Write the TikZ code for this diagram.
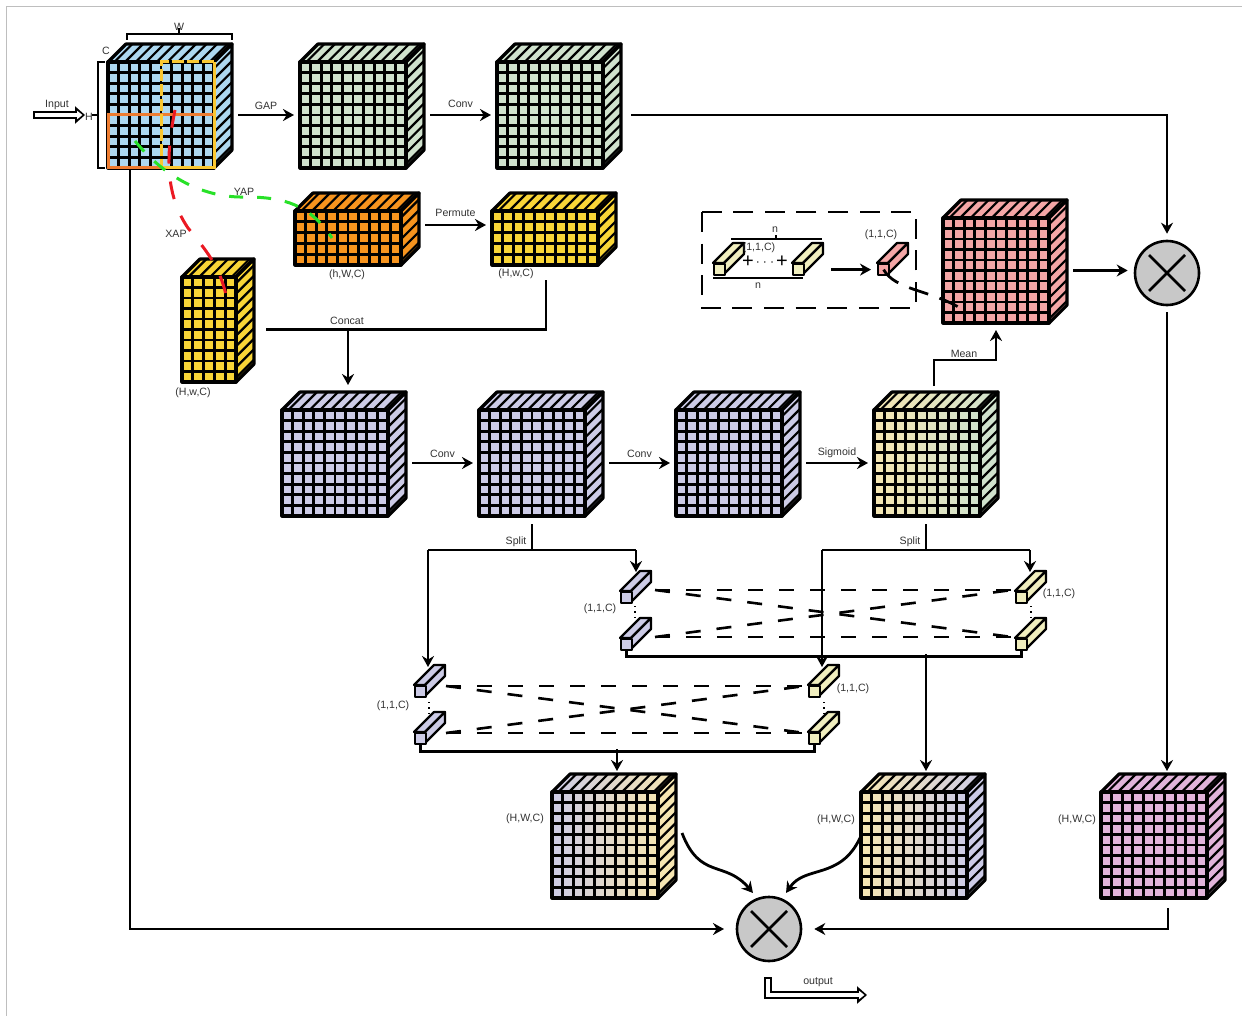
\documentclass[tikz,border=0pt]{standalone}
\usepackage{xcolor}
\usepackage{fontspec}
\setmainfont{Liberation Sans}
\usepackage{tikz}
\usetikzlibrary{arrows.meta, positioning, calc}
\definecolor{cubeblue}{RGB}{173,216,240}
\definecolor{cubegreen}{RGB}{208,226,205}
\definecolor{cubeorange}{RGB}{247,148,30}
\definecolor{cubeyellow}{RGB}{249,213,55}
\definecolor{cubepurple}{RGB}{204,203,230}
\definecolor{cubecream}{RGB}{246,230,178}
\definecolor{cubepink}{RGB}{244,166,166}
\definecolor{cubemauve}{RGB}{225,180,218}
\definecolor{barcream}{RGB}{240,238,190}
\definecolor{mulgray}{RGB}{200,200,200}
\definecolor{labgray}{RGB}{50,50,50}
\definecolor{framegray}{RGB}{190,190,190}
\definecolor{xapred}{RGB}{235,25,35}
\definecolor{yapgreen}{RGB}{40,225,40}
\definecolor{hedgeorange}{RGB}{238,125,49}
\definecolor{hedgeyellow}{RGB}{250,200,50}
\tikzset{
  cubeface/.style={draw=black, line width=1.6pt, line join=round},
  barface/.style={draw=black, line width=1.1pt, line join=round},
  cubegrid/.style={black, line width=1.4pt},
  cubehatch/.style={black, line width=1.1pt},
  facebox/.style={inner sep=0pt, outer sep=0pt},
  faceblue/.style={fill=cubeblue},
  facegreen/.style={fill=cubegreen},
  faceorange/.style={fill=cubeorange},
  faceyellow/.style={fill=cubeyellow},
  facepurple/.style={fill=cubepurple},
  facepink/.style={fill=cubepink},
  facemauve/.style={fill=cubemauve},
  facecream/.style={fill=cubecream},
  facecg/.style={left color=cubecream, right color=cubegreen},
  facepc/.style={left color=cubepurple, right color=cubecream},
  facecp/.style={left color=cubecream, right color=cubepurple},
  lab/.style={font=\fontsize{5.3}{6}\selectfont, text=labgray, inner sep=0pt, yshift=-0.6pt},
  arrow/.style={-{Stealth[length=5.5pt, width=6pt]}, line width=1.4pt, color=black,
    shorten >=3pt, shorten <=3pt},
  wire/.style={line width=1.4pt, color=black},
  pairdash/.style={line width=1.3pt, dash pattern=on 7.5pt off 8pt},
  bigdash/.style={line width=1.3pt, dash pattern=on 10pt off 5.8pt},
  hollowout/.style={line width=3.8pt, color=black, -{Triangle[length=5pt, width=8.5pt]}},
  hollowin/.style={line width=1.6pt, color=white, -{Triangle[length=2.6pt, width=4pt]},
    shorten >=1.3pt, shorten <=1.1pt},
  mulnode/.style={circle, draw=black, fill=mulgray, line width=1.3pt,
    minimum size=32pt, inner sep=0pt},
  mulcross/.style={line width=1.3pt, black}
}
% #1 name, #2 x, #3 y, #4 w, #5 h, #6 cols, #7 rows, #8 front, #9 side, then top
\newcommand{\tensorcube}[9]{%
  \def\cubename{#1}\def\cubex{#2}\def\cubey{#3}\def\cubew{#4}\def\cubeh{#5}%
  \def\cubecols{#6}\def\cuberows{#7}\def\cubefront{#8}\def\cubeside{#9}%
  \tensorcubefinish}
\newcommand{\tensorcubefinish}[1]{%
  \path[cubeface, #1] (\cubex,\cubey) -- ++(18,-18) -- ++(\cubew,0) -- ++(-18,18) -- cycle;
  \path[cubeface, \cubeside] (\cubex+\cubew,\cubey) -- ++(18,-18) -- ++(0,\cubeh) -- ++(-18,18) -- cycle;
  \pgfmathtruncatemacro{\lastcol}{\cubecols-1}
  \pgfmathtruncatemacro{\lastrow}{\cuberows-1}
  \foreach \i in {1,...,\cubecols} {
    \draw[cubehatch] ({\cubex+(\i-0.4)*\cubew/\cubecols},\cubey) -- ++(18,-18);
  }
  \foreach \i in {1,...,\cuberows} {
    \draw[cubehatch] (\cubex+\cubew,{\cubey+(\i-0.4)*\cubeh/\cuberows}) -- ++(18,-18);
  }
  \path[cubeface, \cubefront] (\cubex,\cubey) rectangle ++(\cubew,\cubeh);
  \foreach \i in {1,...,\lastcol} {
    \draw[cubegrid] ({\cubex+\i*\cubew/\cubecols},\cubey) -- ++(0,\cubeh);
  }
  \foreach \i in {1,...,\lastrow} {
    \draw[cubegrid] (\cubex,{\cubey+\i*\cubeh/\cuberows}) -- ++(\cubew,0);
  }
  \node[facebox, minimum width=\cubew*0.5pt, minimum height=\cubeh*0.5pt, anchor=north west]
    (\cubename) at (\cubex,\cubey) {};
  \coordinate (\cubename e) at ($(\cubename.east)+(18,0)$);
}
% #1 name, #2 x, #3 y, #4 colour
\newcommand{\minibar}[4]{%
  \path[barface, fill=#4] (#2,#3) -- ++(20,-20) -- ++(11,0) -- ++(-20,20) -- cycle;
  \path[barface, fill=#4] (#2+11,#3) -- ++(20,-20) -- ++(0,11) -- ++(-20,20) -- cycle;
  \node[barface, fill=#4, minimum size=5.5pt, inner sep=0pt, anchor=north west] (#1) at (#2,#3) {};
  \coordinate (#1e) at ($(#1.east)+(20,0)$);
}
\begin{document}
\begin{tikzpicture}[x=0.5pt, y=-0.5pt, >=Stealth]
  \useasboundingbox (0,0) rectangle (1242,1016);
  \draw[framegray, line width=0.4pt] (6,1016) -- (6,6) -- (1242,6);

  % Input tensor and its markings
  \tensorcube{inp}{108}{62}{106}{106}{10}{10}{faceblue}{faceblue}{faceblue}
  \draw[hedgeorange, line width=1.5pt] (161,168) -- (108,168) -- (108,115) -- (214,115);
  \draw[hedgeyellow, line width=1.5pt] (161,168) -- (214,168) -- (214,62);
  \draw[hedgeyellow, line width=1.5pt, dash pattern=on 6pt off 1.5pt] (214,62) -- (161,62) -- (161,168);
  \draw[wire] (105,62) -- (98,62) -- (98,168) -- (105,168);
  \draw[wire] (98,115) -- (92,115);
  \draw[wire] (127,40) -- (127,34) -- (232,34) -- (232,40);
  \draw[wire] (179,34) -- (179,28);
  \node[lab] (widthlab) at (179,26) {W};
  \node[lab] (channellab) at (106,50) {C};
  \node[lab] (heightlab) at (89,116) {H};
  \node[lab] (inputlab) at (57,104) {Input};
  \coordinate (inputstart) at (33,115);
  \coordinate (inputend) at (85,115);
  \draw[hollowout] (inputstart) -- (inputend);
  \draw[hollowin] (inputstart) -- (inputend);

  % Top row
  \tensorcube{gapcube}{300}{62}{106}{106}{10}{10}{facegreen}{facegreen}{facegreen}
  \tensorcube{convcube}{497}{62}{106}{106}{10}{10}{facegreen}{facegreen}{facegreen}
  \draw[arrow] (inpe) -- (gapcube) node[lab, midway, above=2.5pt] (gaplab) {GAP};
  \draw[arrow] (gapcubee) -- (convcube) node[lab, midway, above=3.5pt] (convlabA) {Conv};

  % Axis pooled tensors
  \tensorcube{yapcube}{295}{211}{106}{54}{10}{5}{faceorange}{faceorange}{faceorange}
  \tensorcube{permcube}{492}{211}{106}{54}{10}{5}{faceyellow}{faceyellow}{faceyellow}
  \tensorcube{xapcube}{182}{277}{54}{105}{5}{10}{faceyellow}{faceyellow}{faceyellow}
  \coordinate (permstart) at (419,225);
  \draw[arrow] (permstart) -- (permstart -| permcube.west) node[lab, midway, above=4pt] (permlab) {Permute};
  \node[lab] (yaplab) at (347,274) {(h,W,C)};
  \node[lab] (permsize) at (516,273) {(H,w,C)};
  \node[lab] (xapsize) at (193,392) {(H,w,C)};

  % Pooling traces
  \draw[yapgreen, line width=1.5pt, dash pattern=on 7pt off 7pt]
    (135,141) .. controls (165,178) and (205,198) .. (245,197) .. controls (285,197) and (310,205) .. (332,238);
  \draw[xapred, line width=1.5pt, dash pattern=on 9pt off 9pt]
    (175,110) .. controls (168,145) and (162,190) .. (188,228) .. controls (210,255) and (222,270) .. (228,305);
  \node[lab] (yapname) at (244,191) {YAP};
  \node[lab] (xapname) at (176,233) {XAP};

  % Sum box
  \draw[bigdash] (702,212) rectangle (916,308);
  \minibar{sumA}{713}{263}{barcream}
  \minibar{sumB}{792}{263}{barcream}
  \minibar{sumC}{877}{263}{cubepink}
  \draw[wire] (731,239) -- (822,239);
  \draw[wire] (776,239) -- (776,235);
  \draw[wire] (713,278) -- (803,278);
  \node[lab] (ntop) at (775,228) {n};
  \node[lab] (nbot) at (758,284) {n};
  \node[lab] (sumsize) at (759,247) {(1,1,C)};
  \node[lab] (sumout) at (881,234) {(1,1,C)};
  \node[font=\fontsize{10}{10}\selectfont, inner sep=0pt] (plusA) at (748,262) {+};
  \node[font=\fontsize{10}{10}\selectfont, inner sep=0pt] (plusB) at (782,262) {+};
  \node[font=\fontsize{6}{6}\selectfont, inner sep=0pt] (plusdots) at (765,263) {$\cdots$};
  \draw[arrow] (sumBe) -- (sumC);

  % Attention map and upper fusion
  \tensorcube{pinkcube}{943}{218}{106}{105}{10}{10}{facepink}{facepink}{facepink}
  \node[mulnode] (mulA) at (1167,273) {};
  \draw[mulcross] (1149,255) -- (1185,291);
  \draw[mulcross] (1149,291) -- (1185,255);
  \draw[wire, dash pattern=on 10pt off 6pt] (sumC.center) .. controls (895,290) and (930,290) .. (960,308);
  \draw[arrow, shorten <=5pt] (convcubee) -| (mulA);
  \draw[arrow] (pinkcubee) -- (mulA.west |- pinkcubee);

  % Concat of the pooled tensors
  \tensorcube{purA}{282}{410}{106}{106}{10}{10}{facepurple}{facepurple}{facepurple}
  \tensorcube{purB}{479}{410}{106}{106}{10}{10}{facepurple}{facepurple}{facepurple}
  \tensorcube{purC}{676}{410}{106}{106}{10}{10}{facepurple}{facepurple}{facepurple}
  \tensorcube{sigcube}{874}{410}{106}{106}{10}{10}{facecg}{facegreen}{facecg}
  \coordinate (concatj) at (348,329);
  \coordinate (permdrop) at (546,280);
  \draw[wire] (xapcubee) ++(12,0) -| (permdrop);
  \draw[arrow, shorten <=0pt, shorten >=0pt] (concatj) -- (348,385);
  \node[lab] (concatlab) at (347,320) {Concat};
  \draw[arrow] (purAe) -- (purB) node[lab, midway, above=2.5pt] (convlabB) {Conv};
  \draw[arrow] (purBe) -- (purC) node[lab, midway, above=2.5pt] (convlabC) {Conv};
  \draw[arrow] (purCe) -- (sigcube) node[lab, midway, above=2.5pt] (siglab) {Sigmoid};
  \coordinate (meanup) at (934,386);
  \draw[arrow, shorten <=0pt, shorten >=0pt] (meanup) -- (934,360) -- (996,360) -- (996,330);
  \node[lab] (meanlab) at (964,353) {Mean};

  % Split pairs
  \minibar{splitA}{414}{685}{cubepurple}
  \minibar{splitB}{414}{732}{cubepurple}
  \minibar{splitC}{620}{591}{cubepurple}
  \minibar{splitD}{620}{638}{cubepurple}
  \minibar{splitE}{808}{685}{barcream}
  \minibar{splitF}{808}{732}{barcream}
  \minibar{splitG}{1015}{591}{barcream}
  \minibar{splitH}{1015}{638}{barcream}
  \node[lab] (sizeA) at (393,705) {(1,1,C)};
  \node[lab] (sizeC) at (600,608) {(1,1,C)};
  \node[lab] (sizeE) at (853,688) {(1,1,C)};
  \node[lab] (sizeG) at (1059,593) {(1,1,C)};
  \draw[dotted, line width=0.7pt] (429,702) -- (429,716);
  \draw[dotted, line width=0.7pt] (635,606) -- (635,620);
  \draw[dotted, line width=0.7pt] (824,702) -- (824,716);
  \draw[dotted, line width=0.7pt] (1031,606) -- (1031,620);
  \draw[wire] (purB.south) ++(0,8) -- ++(0,26);
  \draw[wire] (sigcube.south) ++(-1,8) -- ++(0,26);
  \draw[wire] (428,550) -- (636,550);
  \draw[wire] (822,550) -- (1030,550);
  \draw[arrow, shorten <=0pt, shorten >=0pt] (428,550) -- (428,667);
  \draw[arrow, shorten <=0pt, shorten >=0pt] (636,550) -- (636,572);
  \draw[arrow, shorten <=0pt, shorten >=0pt] (822,550) -- (822,667);
  \draw[arrow, shorten <=0pt, shorten >=0pt] (1030,550) -- (1030,572);
  \node[lab] (splitlabA) at (516,541) {Split};
  \node[lab] (splitlabB) at (910,541) {Split};

  % Crossed pairings
  \draw[pairdash] (655,590) -- (1012,590);
  \draw[pairdash] (655,637) -- (1012,637);
  \draw[pairdash] (655,590) -- (1012,637);
  \draw[pairdash] (655,637) -- (1012,590);
  \draw[pairdash] (446,686) -- (805,686);
  \draw[pairdash] (446,733) -- (805,733);
  \draw[pairdash] (446,686) -- (805,733);
  \draw[pairdash] (446,733) -- (805,686);

  % Merged results
  \tensorcube{mergeA}{552}{792}{106}{106}{10}{10}{facepc}{facecream}{facepc}
  \tensorcube{mergeB}{861}{792}{106}{106}{10}{10}{facecp}{facepurple}{facecp}
  \tensorcube{mergeC}{1101}{792}{106}{106}{10}{10}{facemauve}{facemauve}{facemauve}
  \node[lab] (mergeAsize) at (525,818) {(H,W,C)};
  \node[lab] (mergeBsize) at (836,819) {(H,W,C)};
  \node[lab] (mergeCsize) at (1077,819) {(H,W,C)};
  \draw[wire] (splitB.south) -- ++(0,6) -| (splitF.south);
  \draw[wire] (splitD.south) ++(0,-1) -- ++(0,6) -| (splitH.south);
  \draw[arrow, shorten <=0pt, shorten >=0pt] (617,749) -- (617,771);
  \draw[arrow, shorten <=0pt, shorten >=0pt] (926,654) -- (926,771);
  \draw[arrow, shorten >=0pt] (mulA) -- (1167,771);

  % Final fusion
  \node[mulnode] (mulB) at (769,929) {};
  \draw[mulcross] (751,911) -- (787,947);
  \draw[mulcross] (751,947) -- (787,911);
  \draw[arrow, shorten <=0pt, shorten >=0pt] (130,170) |- (724,929);
  \draw[arrow, shorten <=0pt, shorten >=6pt] (mergeC.south) ++(14,10) |- (mulB);
  \draw[arrow, shorten <=0pt, shorten >=0pt] (682,833) .. controls (700,880) and (725,860) .. (753,893);
  \draw[arrow, shorten <=0pt, shorten >=0pt] (860,838) .. controls (840,880) and (805,865) .. (786,893);
  \coordinate (outputstart) at (768,977);
  \coordinate (outputend) at (867,995);
  \draw[hollowout] (outputstart) |- (outputend);
  \draw[hollowin] (outputstart) |- (outputend);
  \node[lab] (outputlab) at (818,981) {output};
\end{tikzpicture}
\end{document}
